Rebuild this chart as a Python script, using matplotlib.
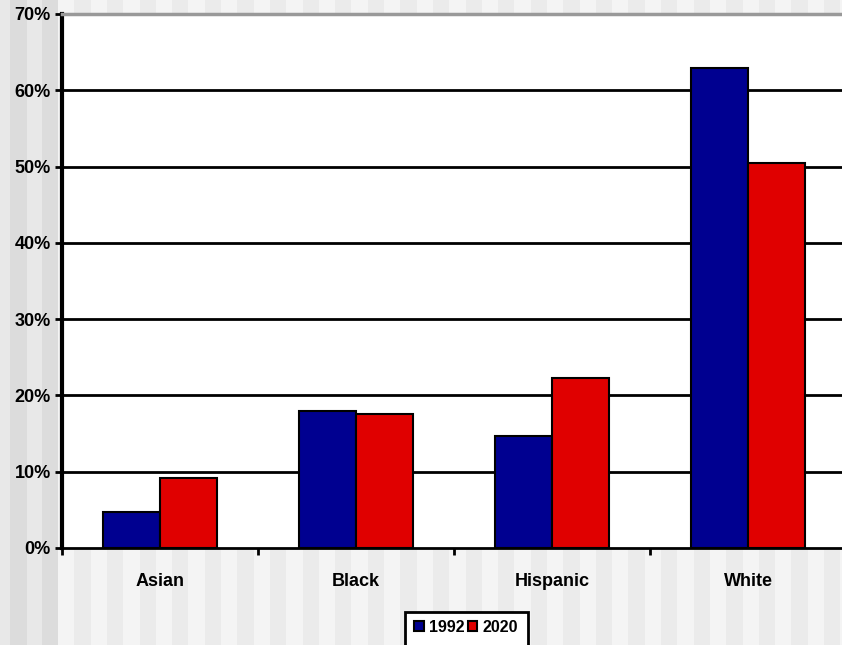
import numpy as np
import matplotlib.pyplot as plt
from matplotlib.patches import Rectangle

plt.rcParams['font.family'] = ['Liberation Sans', 'DejaVu Sans']
plt.rcParams['font.weight'] = 'bold'

groups = ['Asian', 'Black', 'Hispanic', 'White']
years = ['1992', '2020']
share_1992 = [4.7, 17.9, 14.7, 62.9]
share_2020 = [9.2, 17.6, 22.3, 50.5]
colors = ['#000090', '#e00000']
y_ticks = [0, 10, 20, 30, 40, 50, 60, 70]

W, H = 842, 645
fig = plt.figure(figsize=(W / 100, H / 100), dpi=100)

# striped backdrop in figure pixel coordinates
def stripe(x0, x1, c):
    fig.patches.append(Rectangle((x0 / W, 0), (x1 - x0) / W, 1, transform=fig.transFigure,
                                 facecolor=c, edgecolor='none', zorder=-10))

for x0, x1, c in [(0, 10, '#e8e8e8'), (10, 27, '#dcdcdc'), (27, 42, '#e8e8e8'), (42, 58, '#dcdcdc')]:
    stripe(x0, x1, c)
x = 58
k = 0
while x < W:
    stripe(x, x + 16.3, '#f4f4f4' if k % 2 == 0 else '#ebebeb')
    x += 16.3
    k += 1

# plot area: 0% at y=548, 70% at y=14, left at x=62, four 196px categories
left, right, top, bottom = 62, 846, 14, 548
ax = fig.add_axes([left / W, 1 - bottom / H, (right - left) / W, (bottom - top) / H])
ax.set_facecolor('white')

xpos = np.arange(len(groups))
bw = 0.29
ax.bar(xpos - bw / 2, share_1992, bw, color=colors[0], edgecolor='black', linewidth=1.5,
       label=years[0], zorder=3)
ax.bar(xpos + bw / 2, share_2020, bw, color=colors[1], edgecolor='black', linewidth=1.5,
       label=years[1], zorder=3)

ax.set_xlim(-0.5, 3.5)
ax.set_ylim(0, 70)
ax.set_yticks(y_ticks)
ax.set_yticklabels([f'{v}%' for v in y_ticks], fontsize=13, fontweight='bold')
ax.set_xticks(np.arange(-0.5, 3.6, 1.0))
ax.set_xticklabels([])
ax.set_xticks(xpos, minor=True)
ax.set_xticklabels(groups, minor=True, fontsize=13, fontweight='bold')
ax.tick_params(axis='x', which='minor', length=0, pad=18)
ax.tick_params(axis='x', which='major', length=5, width=2, direction='out')
ax.tick_params(axis='y', length=5, width=2, direction='out', pad=3)

for v in y_ticks[1:-1]:
    ax.axhline(v, color='black', linewidth=2, zorder=1)

ax.spines['right'].set_visible(False)
ax.spines['top'].set_color('#999999')
ax.spines['top'].set_linewidth(2.5)
ax.spines['left'].set_linewidth(3)
ax.spines['bottom'].set_linewidth(2)

# legend box runs off the bottom edge of the figure
fig.patches.append(Rectangle((405 / W, -0.05), 123 / W, 0.05 + (H - 612) / H,
                             transform=fig.transFigure, facecolor='white',
                             edgecolor='black', linewidth=2, zorder=-5))
fig.legend(loc='center', bbox_to_anchor=(466 / W, 1 - 627 / H), ncol=2,
           frameon=False, handlelength=0.6, handleheight=0.6, handletextpad=0.3,
           columnspacing=0.2, borderpad=0, borderaxespad=0,
           prop={'weight': 'bold', 'size': 11.5})

fig.savefig('out.png', dpi=100)
